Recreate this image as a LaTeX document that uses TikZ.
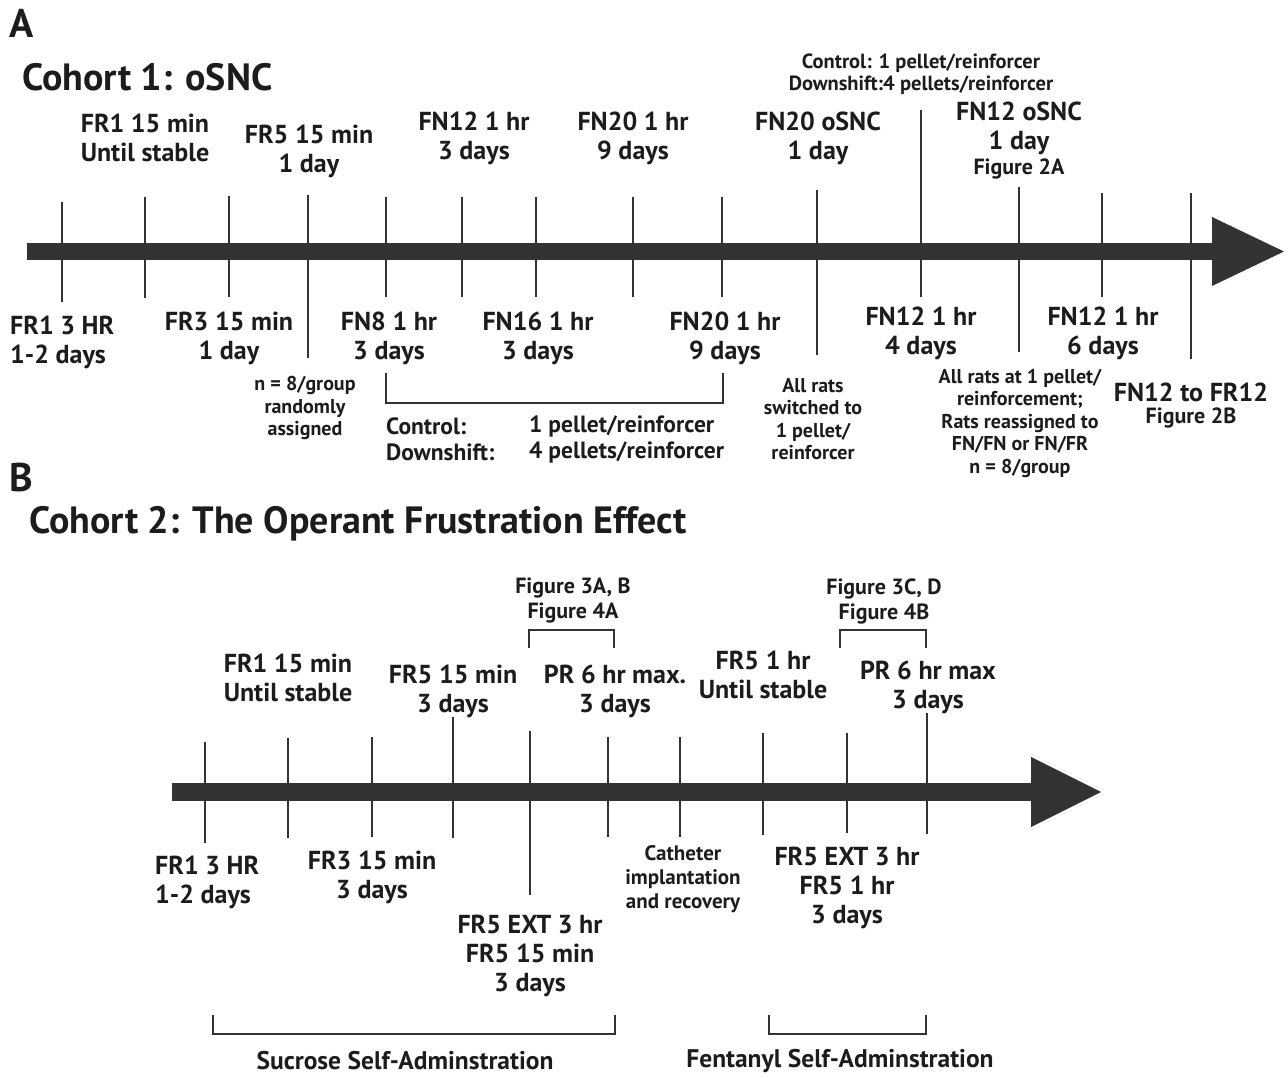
\documentclass[tikz,border=0pt]{standalone}
\usepackage{fontspec}
\setmainfont{PT Sans}
\usepackage{xcolor}
\definecolor{ink}{HTML}{1C1C1C}
\definecolor{barc}{HTML}{333333}
\tikzset{
  big/.style={font=\fontsize{26}{29}\selectfont\bfseries, align=center, text=ink, inner sep=0pt},
  mid/.style={font=\fontsize{23.5}{26}\selectfont\bfseries, align=left, text=ink, inner sep=0pt},
  small/.style={font=\fontsize{20}{22.5}\selectfont\bfseries, align=center, text=ink, inner sep=0pt},
  figlbl/.style={font=\fontsize{22}{25}\selectfont\bfseries, align=center, text=ink, inner sep=0pt},
  title/.style={font=\fontsize{38}{42}\selectfont\bfseries, text=ink, inner sep=0pt, anchor=west},
  panel/.style={font=\fontsize{40}{44}\selectfont\bfseries, text=ink, inner sep=0pt, anchor=west},
  phase/.style={font=\fontsize{25.5}{29}\selectfont\bfseries, text=ink, inner sep=0pt},
  tick/.style={draw=barc, line width=2pt},
  brace/.style={draw=barc, line width=2pt}
}
\begin{document}
\begin{tikzpicture}[x=1pt, y=-1pt]
\useasboundingbox (0,0) rectangle (1288,1078);

% Panel A
\node[panel] (pA) at (9,23) {A};
\node[title] (cA) at (22,77) {Cohort 1: oSNC};

% Timeline A
\fill[barc] (27,243) rectangle (1214,260);
\fill[barc] (1212,217) -- (1284,251.5) -- (1212,286) -- cycle;

% Ticks A
\draw[tick] (62,202) -- (62,302);
\draw[tick] (145,197) -- (145,298);
\draw[tick] (229,196) -- (229,297);
\draw[tick] (308,195) -- (308,358);
\draw[tick] (386,197) -- (386,297);
\draw[tick] (462,197) -- (462,297);
\draw[tick] (536,197) -- (536,297);
\draw[tick] (633,197) -- (633,297);
\draw[tick] (722,197) -- (722,297);
\draw[tick] (817,190) -- (817,355);
\draw[tick] (921,110) -- (921,297);
\draw[tick] (1019,187) -- (1019,352);
\draw[tick] (1102,193) -- (1102,297);
\draw[tick] (1191,193) -- (1191,359);

% Labels above A
\node[big] (a1) at (145,138) {FR1 15 min\\Until stable};
\node[big] (a2) at (309,151) {FR5 15 min\\1 day};
\node[big] (a3) at (474,138) {FN12 1 hr\\3 days};
\node[big] (a4) at (633,138) {FN20 1 hr\\9 days};
\node[big] (a5) at (818,138) {FN20 oSNC\\1 day};
\node[small, font=\fontsize{20.5}{22.5}\selectfont\bfseries] (a6) at (921,74) {Control: 1 pellet/reinforcer\\Downshift:4 pellets/reinforcer};
\node[big] (a7) at (1019,128) {FN12 oSNC\\1 day};
\node[figlbl] (a7f) at (1019,169) {Figure 2A};

% Labels below A
\node[big, align=left, anchor=west] (b1) at (10,342) {FR1 3 HR\\1-2 days};
\node[big] (b2) at (229,338) {FR3 15 min\\1 day};
\node[big] (b3) at (389,338) {FN8 1 hr\\3 days};
\node[big] (b4) at (538,338) {FN16 1 hr\\3 days};
\node[big] (b5) at (725,338) {FN20 1 hr\\9 days};
\node[big] (b6) at (921,333) {FN12 1 hr\\4 days};
\node[big] (b7) at (1103,333) {FN12 1 hr\\6 days};
\node[big] (b8) at (1191,392) {FN12 to FR12};
\node[figlbl] (b8f) at (1191,418) {Figure 2B};
\node[small] (n1) at (305,408) {n = 8/group\\randomly\\assigned};
\node[small] (n2) at (813,419) {All rats\\switched to\\1 pellet/\\reinforcer};
\node[small] (n3) at (1020,423) {All rats at 1 pellet/\\reinforcement;\\Rats reassigned to\\FN/FN or FN/FR\\n = 8/group};

% Bracket A
\draw[brace] (386,373) -- (386,403) -- (723,403) -- (723,373);
\node[mid, anchor=west] (grp) at (386,439) {Control:\\Downshift:};
\node[mid, anchor=west] (pel) at (529,439) {1 pellet/reinforcer\\4 pellets/reinforcer};

% Panel B
\node[panel] (pB) at (9,477) {B};
\node[title] (cB) at (29,524) {Cohort 2: The Operant Frustration Effect};

% Timeline B
\fill[barc] (172,783) rectangle (1033,801);
\fill[barc] (1031,757) -- (1101,792) -- (1031,827) -- cycle;

% Ticks B
\draw[tick] (205,742) -- (205,843);
\draw[tick] (288,738) -- (288,838);
\draw[tick] (372,737) -- (372,837);
\draw[tick] (453,717) -- (453,838);
\draw[tick] (530,731) -- (530,895);
\draw[tick] (608,737) -- (608,837);
\draw[tick] (680,737) -- (680,837);
\draw[tick] (763,733) -- (763,835);
\draw[tick] (847,733) -- (847,833);
\draw[tick] (927,713) -- (927,834);

% Labels above B
\node[big] (c1) at (288,678) {FR1 15 min\\Until stable};
\node[big] (c2) at (453,691) {FR5 15 min\\3 days};
\node[big] (c3) at (615,691) {PR 6 hr max.\\3 days};
\node[big] (c4) at (763,675) {FR5 1 hr\\Until stable};
\node[big] (c5) at (928,687) {PR 6 hr max\\3 days};
\node[figlbl] (f1) at (573,601) {Figure 3A, B\\Figure 4A};
\node[figlbl] (f2) at (884,601) {Figure 3C, D\\Figure 4B};
\draw[brace] (529,648) -- (529,630) -- (614,630) -- (614,648);
\draw[brace] (840,648) -- (840,630) -- (926,630) -- (926,648);

% Labels below B
\node[big, align=left, anchor=west] (d1) at (155,882) {FR1 3 HR\\1-2 days};
\node[big] (d2) at (372,877) {FR3 15 min\\3 days};
\node[big] (d3) at (530,956) {FR5 EXT 3 hr\\FR5 15 min\\3 days};
\node[small, font=\fontsize{21}{24}\selectfont\bfseries] (d4) at (683,879) {Catheter\\implantation\\and recovery};
\node[big] (d5) at (847,888) {FR5 EXT 3 hr\\FR5 1 hr\\3 days};

% Phase brackets
\draw[brace] (213,1015) -- (213,1034) -- (615,1034) -- (615,1015);
\draw[brace] (769,1015) -- (769,1034) -- (926,1034) -- (926,1015);
\node[phase] (s1) at (405,1061) {Sucrose Self-Adminstration};
\node[phase] (s2) at (840,1061) {Fentanyl Self-Adminstration};
\end{tikzpicture}
\end{document}
